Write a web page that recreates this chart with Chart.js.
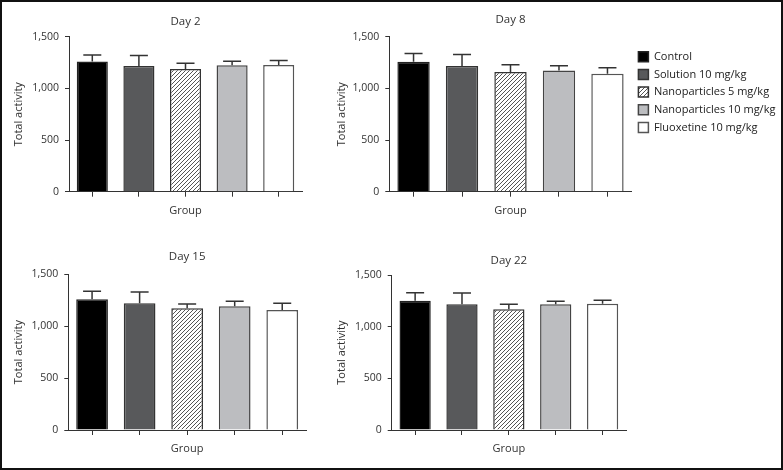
<!DOCTYPE html>
<html>
<head>
<meta charset="utf-8">
<script src="https://cdn.jsdelivr.net/npm/chart.js@4/dist/chart.umd.min.js"></script>
<style>
  body { margin: 0; background: #fff; }
  #wrap { position: relative; width: 783px; height: 470px; overflow: hidden; }
  canvas { position: absolute; }
  #frame { position: absolute; left: 0; top: 0; width: 783px; height: 470px; box-sizing: border-box; border: 2px solid #111; pointer-events: none; }
</style>
</head>
<body>
<div id="wrap">
  <canvas id="c1" width="320" height="235" style="left:0;top:0"></canvas>
  <canvas id="c2" width="783" height="235" style="left:0;top:0"></canvas>
  <canvas id="c3" width="320" height="235" style="left:0;top:235px"></canvas>
  <canvas id="c4" width="320" height="235" style="left:320px;top:235px"></canvas>
  <div id="frame"></div>
</div>
<script>
// groups and values
const groups = ["Control", "Solution 10 mg/kg", "Nanoparticles 5 mg/kg", "Nanoparticles 10 mg/kg", "Fluoxetine 10 mg/kg"];
const day2 = [1260, 1217, 1188, 1223, 1227];
const day2Err = [62, 100, 55, 39, 42];
const day8 = [1257, 1216, 1158, 1174, 1142];
const day8Err = [81, 112, 70, 45, 58];
const day15 = [1259, 1221, 1172, 1192, 1156];
const day15Err = [77, 108, 42, 48, 65];
const day22 = [1254, 1219, 1170, 1219, 1225];
const day22Err = [78, 110, 49, 29, 33];
const yTicks = [0, 500, 1000, 1500];

Chart.defaults.font.family = "'Open Sans', sans-serif";
Chart.defaults.color = "#333";

function hatch() {
  const c = document.createElement("canvas");
  c.width = 4; c.height = 4;
  const x = c.getContext("2d");
  x.fillStyle = "#fff"; x.fillRect(0, 0, 4, 4);
  x.strokeStyle = "#555"; x.lineWidth = 1;
  x.beginPath();
  x.moveTo(-1, 5); x.lineTo(5, -1);
  x.moveTo(-1, 1); x.lineTo(1, -1);
  x.moveTo(3, 5); x.lineTo(5, 3);
  x.stroke();
  return x.createPattern(c, "repeat");
}
const fills = ["#000000", "#58595b", hatch(), "#bcbdc0", "#ffffff"];
const edges = ["#222", "#333", "#333", "#444", "#555"];

// one-sided error bars with a cap
const errBars = {
  id: "errBars",
  afterDatasetsDraw(chart) {
    const errs = chart.options.plugins.errBars.errs;
    const y = chart.scales.y;
    const ctx = chart.ctx;
    ctx.save();
    ctx.strokeStyle = "#333";
    ctx.lineWidth = 1.5;
    chart.data.datasets.forEach((ds, i) => {
      const el = chart.getDatasetMeta(i).data[i];
      const top = y.getPixelForValue(ds.data[i] + errs[i]);
      ctx.beginPath();
      ctx.moveTo(el.x, el.y);
      ctx.lineTo(el.x, top);
      ctx.moveTo(el.x - 9, top);
      ctx.lineTo(el.x + 9, top);
      ctx.stroke();
    });
    ctx.restore();
  }
};

function makeChart(id, title, vals, errs, p) {
  const datasets = groups.map((g, i) => ({
    label: g,
    data: vals.map((v, j) => (j === i ? v : null)),
    backgroundColor: fills[i],
    borderColor: edges[i],
    borderWidth: 1.5,
    barPercentage: 0.667,
    categoryPercentage: 1,
    grouped: false
  }));
  return new Chart(document.getElementById(id), {
    type: "bar",
    data: { labels: groups, datasets: datasets },
    plugins: [errBars],
    options: {
      responsive: false,
      animation: false,
      layout: { padding: { left: 0, right: p.right, top: 0, bottom: 0 } },
      plugins: {
        errBars: { errs: errs },
        tooltip: { enabled: false },
        title: {
          display: true, text: title, fullSize: false,
          font: { size: 11.5, weight: "normal" }, color: "#333",
          padding: { top: p.tTop, bottom: p.tBot }
        },
        legend: p.legend ? {
          display: true, position: "right", align: "start", fullSize: false, maxWidth: 151.3,
          title: { display: true, text: " ", font: { size: 1 }, padding: { top: 3.3, bottom: 3.3 } },
          labels: { boxWidth: 10, boxHeight: 10, padding: 6.7, color: "#222", font: { size: 11 } }
        } : { display: false }
      },
      scales: {
        x: {
          grid: { display: true, drawOnChartArea: false, offset: false, tickLength: 5, color: "#333" },
          border: { color: "#333", width: 1 },
          ticks: { display: false },
          title: { display: true, text: "Group", font: { size: 11 }, color: "#333", padding: { top: 0, bottom: p.gPad } },
          afterFit: s => { s.height = p.xH; }
        },
        y: {
          min: 0, max: 1500,
          afterBuildTicks: s => { s.ticks = yTicks.map(v => ({ value: v })); },
          grid: { drawOnChartArea: false, tickLength: 4, color: "#333" },
          border: { color: "#333", width: 1 },
          ticks: { padding: 6, font: { size: 10.5 }, color: "#333" },
          title: { display: true, text: "Total activity", font: { size: 11 }, color: "#333", padding: { top: p.yPad, bottom: 0 } },
          afterFit: s => { s.width = p.yW; }
        }
      }
    }
  });
}

makeChart("c1", "Day 2", day2, day2Err, { right: 18, tTop: 14.8, tBot: 8.1, xH: 43.3, gPad: 17.7, yW: 69, yPad: 12 });
// Day 8 canvas spans the full width so the legend gets room on the right
makeChart("c2", "Day 8", day8, day8Err, { right: 0, tTop: 12.4, tBot: 10.5, xH: 43.3, gPad: 17.7, yW: 389.3, yPad: 335, legend: true });
makeChart("c3", "Day 15", day15, day15Err, { right: 14, tTop: 14.8, tBot: 10.7, xH: 40, gPad: 14.4, yW: 68.3, yPad: 12 });
makeChart("c4", "Day 22", day22, day22Err, { right: 14, tTop: 18.8, tBot: 7.7, xH: 40, gPad: 14.4, yW: 71.7, yPad: 15 });
</script>
</body>
</html>
